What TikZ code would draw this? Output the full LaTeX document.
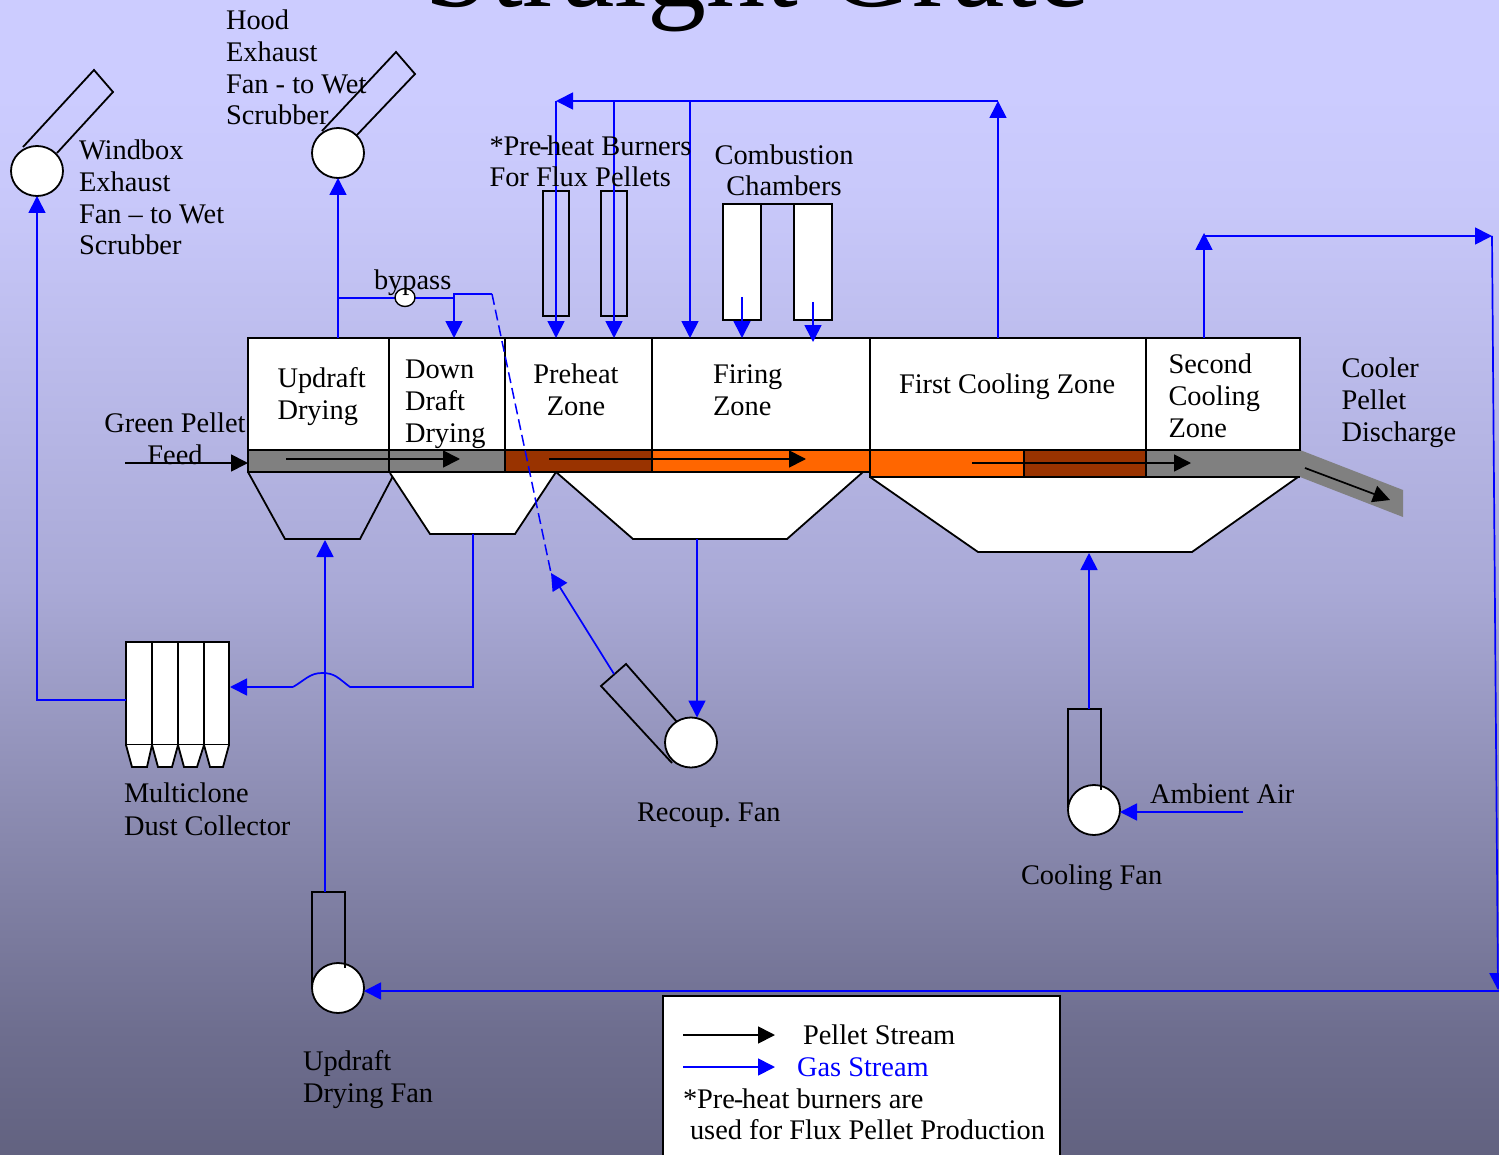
\documentclass[tikz,border=0pt]{standalone}
\usepackage{fontspec}
\setmainfont{Liberation Serif}
\usetikzlibrary{arrows.meta,shapes.geometric}
\definecolor{bga}{HTML}{CCCCFF}
\definecolor{bgb}{HTML}{C8C8FA}
\definecolor{bgc}{HTML}{A9A9D6}
\definecolor{bgd}{HTML}{8D8DB3}
\definecolor{bge}{HTML}{6E6E8F}
\definecolor{bgf}{HTML}{626280}
\definecolor{gasblue}{RGB}{0,0,255}
\definecolor{pgray}{HTML}{808080}
\definecolor{pbrown}{HTML}{993300}
\definecolor{porange}{HTML}{FF6600}
\pgfdeclareverticalshading{bgramp}{100bp}{color(0bp)=(bgf); color(25bp)=(bgf); color(30.4bp)=(bge); color(40.4bp)=(bgd); color(49.46bp)=(bgc); color(66.3bp)=(bgb); color(71bp)=(bga); color(100bp)=(bga)}
\tikzset{
  x=0.5pt,y=-0.5pt,
  every node/.style={inner sep=0pt,outer sep=0pt},
  lbl/.style={font=\fontsize{14.2}{15.9}\selectfont\frenchspacing,anchor=base west,align=left},
  lblc/.style={font=\fontsize{14.2}{15.9}\selectfont\frenchspacing,anchor=base,align=center},
  outline/.style={draw=black,line width=0.9pt,line join=miter},
  zonebox/.style={outline,fill=white,anchor=north west,minimum height=56pt},
  fan/.style={ellipse,outline,fill=white,minimum width=26pt,minimum height=25pt},
  gas/.style={draw=gasblue,line width=0.85pt},
  gasarrow/.style={gas,-{Triangle[length=8.5pt,width=8.5pt,fill=gasblue]}},
  pellet/.style={draw=black,line width=0.85pt,-{Triangle[length=8.5pt,width=8.5pt,fill=black]}},
  clonebox/.style={outline,fill=white,anchor=north west,minimum width=13pt,minimum height=51.5pt},
}
\begin{document}
\begin{tikzpicture}
\useasboundingbox (0,0) rectangle (1499,1155);
\clip (0,0) rectangle (1499,1155);
\fill[shading=bgramp] (0,0) rectangle (1499,1155);

% title
\node[font=\fontsize{59}{59}\selectfont,anchor=base] (title) at (757,7) {Straight Grate};

% hoppers
\draw[outline] (248,472) -- (285,539) -- (360,539) -- (393,476);
\draw[outline,fill=white] (390,473) -- (430,534) -- (515,534) -- (556,472);
\draw[outline,fill=white] (556,472) -- (633,539) -- (787,539) -- (863,472);
\draw[outline,fill=white] (870,477) -- (978,552) -- (1192,552) -- (1298,477);

% discharge chute
\fill[pgray] (1300,450) -- (1403,490) -- (1403,517) -- (1300,477) -- cycle;

% pellet strip
\fill[pgray] (248,450) rectangle (505,472);
\fill[pbrown] (505,450) rectangle (652,472);
\fill[porange] (652,450) rectangle (870,472);
\fill[porange] (870,450) rectangle (1024,477);
\fill[pbrown] (1024,450) rectangle (1146,477);
\fill[pgray] (1146,450) rectangle (1300,477);
\draw[outline] (248,450) -- (248,472) -- (870,472);
\draw[outline] (870,450) -- (870,477) -- (1300,477);
\draw[outline] (389,450) -- (389,472) (505,450) -- (505,472) (652,450) -- (652,472);
\draw[outline] (1024,450) -- (1024,477) (1146,450) -- (1146,477);

% zones
\node[zonebox,minimum width=70.5pt] (zu) at (248,338) {};
\node[zonebox,minimum width=58pt] (zd) at (389,338) {};
\node[zonebox,minimum width=73.5pt] (zp) at (505,338) {};
\node[zonebox,minimum width=109pt] (zf) at (652,338) {};
\node[zonebox,minimum width=138pt] (zc) at (870,338) {};
\node[zonebox,minimum width=77pt] (zs) at (1146,338) {};

% burners and chambers
\node[outline,anchor=north west,minimum width=13pt,minimum height=62.5pt] (b1) at (543,191) {};
\node[outline,anchor=north west,minimum width=13pt,minimum height=62.5pt] (b2) at (601,191) {};
\node[outline,fill=white,anchor=north west,minimum width=19pt,minimum height=58pt] (c1) at (723,204) {};
\node[outline,fill=white,anchor=north west,minimum width=19pt,minimum height=58pt] (c2) at (794,204) {};
\draw[outline] (c1.north east) -- (c2.north west);

% fans and ducts
\draw[outline] (23,147) -- (94,70) -- (113,92) -- (57,153);
\node[fan] (wf) at (37,171) {};
\draw[outline] (322,131) -- (396,52) -- (415,74) -- (356,136);
\node[fan] (hf) at (338,153) {};
\node[fan] (rf) at (691,742.5) {};
\draw[outline] (677,722) -- (626,664) -- (601,686) -- (672,763);
\node[fan] (cf) at (1094,810) {};
\draw[outline] (1068,808) -- (1068,709) -- (1101,709) -- (1101,790);
\node[fan] (uf) at (338,988) {};
\draw[outline] (312,988) -- (312,892) -- (345,892) -- (345,968);

% multiclone
\node[clonebox] (m1) at (126,642) {};
\node[clonebox] (m2) at (152,642) {};
\node[clonebox] (m3) at (178,642) {};
\node[clonebox,minimum width=12.5pt] (m4) at (204,642) {};
\draw[outline,fill=white] (126,745) -- (132,767) -- (147,767) -- (152,745);
\draw[outline,fill=white] (152,745) -- (158,767) -- (172,767) -- (178,745);
\draw[outline,fill=white] (178,745) -- (184,767) -- (197,767) -- (204,745);
\draw[outline,fill=white] (204,745) -- (210,767) -- (223,767) -- (229,745);

% connector end points
\coordinate (hood2) at (338,298);
\coordinate (byp1) at (454,298);
\coordinate (byp2) at (454,294);
\coordinate (byp3) at (492,294);
\coordinate (byp4) at (551,573);
\coordinate (recduct) at (614,674);
\coordinate (topr) at (998,101);
\coordinate (topl) at (556,101);
\coordinate (topm) at (614,101);
\coordinate (topn) at (690,101);
\coordinate (sec1) at (1204,236);
\coordinate (sec2) at (1492,236);
\coordinate (sec3) at (1498,990);
\coordinate (botr) at (1499,991);
\coordinate (h1b) at (325,540);
\coordinate (h2b) at (473,534);
\coordinate (h2c) at (473,687);
\coordinate (jr) at (350,687);
\coordinate (jl) at (293,687);
\coordinate (h3b) at (697,539);
\coordinate (h4b) at (1089,553);
\coordinate (air) at (1243,812);
\coordinate (clonein) at (230,687);
\coordinate (cloneout) at (126,700);

% gas stream
\draw[gasarrow] (cloneout) -| (wf.south);
\draw[gas] (h2b) -- (h2c) -- (jr) .. controls (338,678) and (335,673) .. (322,673) .. controls (310,673) and (305,680) .. (jl);
\draw[gasarrow] (jl) -- (clonein);
\draw[gasarrow] (325,892) -- (h1b);
\draw[gasarrow] (zu.north -| hf.south) -- (hf.south);
\draw[gas] (hood2) -- (byp1) -- (byp2) -- (byp3);
\draw[gasarrow] (byp1) -- (byp1 |- zd.north);
\node[ellipse,outline,fill=white,line width=0.7pt,minimum width=10pt,minimum height=9pt] (valve) at (405,297.5) {};
\draw[gas,line width=0.75pt,dash pattern=on 5.5pt off 2.5pt] (byp3) -- (byp4);
\draw[gasarrow] (recduct) -- (byp4);
\draw[gasarrow] (topr |- zc.north) -- (topr);
\draw[gasarrow] (topr) -- (topl);
\draw[gasarrow] (topl) -- (topl |- zp.north);
\draw[gasarrow] (topm) -- (topm |- zp.north);
\draw[gasarrow] (topn) -- (topn |- zf.north);
\draw[gasarrow] (742,297) -- (742,338);
\draw[gasarrow] (813,302) -- (813,342);
\draw[gasarrow] (sec1 |- zs.north) -- (1204,233);
\draw[gasarrow] (sec1) -- (sec2);
\draw[gasarrow] (sec2) -- (sec3);
\draw[gasarrow] (botr) -- (uf.east |- botr);
\draw[gasarrow] (h3b) -- (h3b |- rf.north);
\draw[gasarrow] (1089,709) -- (h4b);
\draw[gasarrow] (air) -- (cf.east |- air);

% pellet stream
\draw[pellet] (286,459) -- (460,459);
\draw[pellet] (549,459) -- (806,459);
\draw[pellet] (972,463) -- (1191,463);
\draw[pellet] (125,463) -- (248,463);
\draw[pellet] (1305,468) -- (1390,500);

% labels
\node[lbl] (t1) at (226,125) {Hood\\Exhaust\\Fan - to Wet\\Scrubber};
\node[lbl] (t2) at (79,255) {Windbox\\Exhaust\\Fan -- to Wet\\Scrubber};
\node[lbl] (t3) at (489.5,187) {*Pre\kern-1pt-\kern-1pt heat Burners\\For Flux Pellets};
\node[lblc] (t4) at (784,196) {Combustion\\Chambers};
\node[lbl] (t5) at (374,290) {bypass};
\node[lbl] (t6) at (277.5,419) {Updraft\\Drying};
\node[lbl] (t7) at (405,442) {Down\\Draft\\Drying};
\node[lblc] (t8) at (576,415) {Preheat\\Zone};
\node[lbl] (t9) at (713,415) {Firing\\Zone};
\node[lbl] (t10) at (899,393) {First Cooling Zone};
\node[lbl] (t11) at (1168.5,437) {Second\\Cooling\\Zone};
\node[lbl] (t12) at (1341.5,441) {Cooler\\Pellet\\Discharge};
\node[lblc] (t13) at (175,464) {Green Pellet\\Feed};
\node[lbl] (t14) at (124,835) {Multiclone\\[0.4pt]Dust Collector};
\node[lbl] (t15) at (637,821) {Recoup. Fan};
\node[lbl] (t16) at (1150,803) {Ambient Air};
\node[lbl] (t17) at (1021,884) {Cooling Fan};
\node[lbl] (t18) at (303,1102) {Updraft\\Drying Fan};

% legend
\node[outline,fill=white,anchor=north west,minimum width=198.5pt,minimum height=100pt] (legend) at (663,996) {};
\coordinate (la1) at (683,1035);
\coordinate (la2) at (775,1035);
\coordinate (lb1) at (683,1067);
\coordinate (lb2) at (775,1067);
\draw[pellet] (la1) -- (la2);
\draw[gasarrow] (lb1) -- (lb2);
\node[lbl] (l1) at (803,1044) {Pellet Stream};
\node[lbl,text=gasblue] (l2) at (797,1076) {Gas Stream};
\node[lbl] (l3) at (683,1108) {*Pre\kern-0.6pt-\kern-0.6pt heat burners are};
\node[lbl] (l4) at (690,1139) {used for Flux Pellet Production};
\end{tikzpicture}
\end{document}
